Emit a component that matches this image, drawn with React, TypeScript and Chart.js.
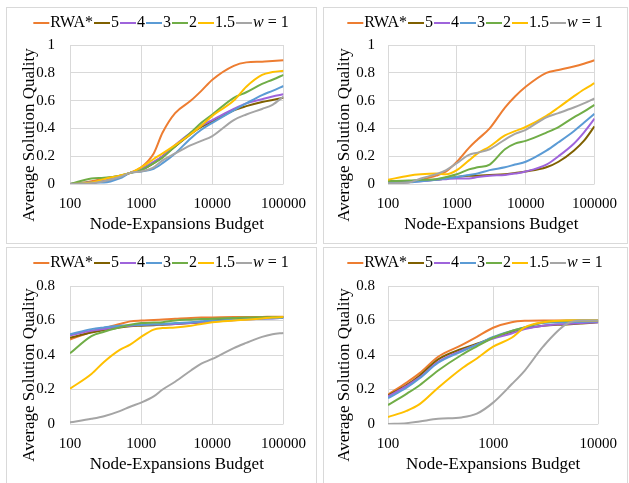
import React, { useEffect, useRef } from "react";
import { Chart, registerables } from "chart.js";

Chart.register(...registerables);

const seriesLabels = ["RWA*", "5", "4", "3", "2", "1.5", "w = 1"];
const seriesColors = ["#ED7D31", "#7F6000", "#9E64DB", "#5B9BD5", "#70AD47", "#FFC000", "#A5A5A5"];

const budgetsWide = [100, 200, 300, 500, 700, 1000, 1500, 2000, 3000, 5000, 7000, 10000, 20000, 30000, 50000, 70000, 100000];
const budgetsNarrow = [100, 150, 200, 300, 500, 700, 1000, 1500, 2000, 3000, 5000, 7000, 10000];
const xTicksWide = [100, 1000, 10000, 100000];
const xTicksNarrow = [100, 1000, 10000];

// Panel 1 (top-left)
const p1Rwa = [0, 0.02, 0.04, 0.06, 0.08, 0.12, 0.22, 0.37, 0.51, 0.6, 0.67, 0.75, 0.85, 0.875, 0.88, 0.885, 0.89];
const p1W5 = [0, 0.01, 0.02, 0.05, 0.08, 0.1, 0.15, 0.2, 0.27, 0.36, 0.41, 0.45, 0.53, 0.56, 0.59, 0.605, 0.62];
const p1W4 = [0, 0.01, 0.02, 0.05, 0.08, 0.11, 0.16, 0.2, 0.28, 0.37, 0.42, 0.46, 0.54, 0.58, 0.61, 0.63, 0.645];
const p1W3 = [0, 0.01, 0.01, 0.04, 0.08, 0.09, 0.11, 0.15, 0.22, 0.33, 0.39, 0.44, 0.53, 0.58, 0.64, 0.67, 0.705];
const p1W2 = [0, 0.04, 0.045, 0.06, 0.08, 0.1, 0.15, 0.19, 0.27, 0.37, 0.44, 0.5, 0.62, 0.66, 0.72, 0.75, 0.785];
const p1W15 = [0, 0.01, 0.035, 0.06, 0.08, 0.12, 0.18, 0.22, 0.28, 0.36, 0.42, 0.49, 0.6, 0.7, 0.785, 0.805, 0.815];
const p1W1 = [0, 0.005, 0.02, 0.05, 0.08, 0.09, 0.12, 0.17, 0.22, 0.28, 0.31, 0.345, 0.46, 0.5, 0.54, 0.57, 0.63];

// Panel 2 (top-right)
const p2Rwa = [0.01, 0.012, 0.03, 0.06, 0.09, 0.16, 0.26, 0.32, 0.4, 0.55, 0.63, 0.7, 0.8, 0.82, 0.845, 0.865, 0.89];
const p2W5 = [0.02, 0.02, 0.025, 0.03, 0.04, 0.05, 0.06, 0.06, 0.065, 0.07, 0.08, 0.09, 0.12, 0.16, 0.24, 0.31, 0.415];
const p2W4 = [0.01, 0.015, 0.02, 0.03, 0.035, 0.04, 0.04, 0.05, 0.06, 0.065, 0.075, 0.09, 0.14, 0.2, 0.29, 0.37, 0.47];
const p2W3 = [0.01, 0.012, 0.02, 0.03, 0.04, 0.05, 0.065, 0.075, 0.1, 0.12, 0.14, 0.16, 0.24, 0.3, 0.38, 0.44, 0.505];
const p2W2 = [0.02, 0.025, 0.03, 0.035, 0.05, 0.07, 0.105, 0.12, 0.14, 0.25, 0.29, 0.31, 0.37, 0.41, 0.48, 0.52, 0.57];
const p2W15 = [0.03, 0.06, 0.07, 0.075, 0.07, 0.1, 0.17, 0.22, 0.27, 0.35, 0.38, 0.41, 0.49, 0.55, 0.63, 0.68, 0.725];
const p2W1 = [0.005, 0.01, 0.04, 0.07, 0.1, 0.15, 0.21, 0.225, 0.25, 0.32, 0.36, 0.39, 0.48, 0.51, 0.55, 0.58, 0.615];

// Panel 3 (bottom-left)
const p3Rwa = [0.49, 0.535, 0.555, 0.58, 0.595, 0.6, 0.603, 0.606, 0.61, 0.615, 0.617, 0.618, 0.62, 0.621, 0.621, 0.622, 0.622];
const p3W5 = [0.5, 0.53, 0.545, 0.56, 0.567, 0.57, 0.573, 0.576, 0.58, 0.585, 0.59, 0.6, 0.608, 0.612, 0.615, 0.618, 0.62];
const p3W4 = [0.515, 0.54, 0.55, 0.565, 0.57, 0.575, 0.577, 0.578, 0.58, 0.585, 0.59, 0.595, 0.602, 0.606, 0.61, 0.612, 0.615];
const p3W3 = [0.52, 0.55, 0.56, 0.57, 0.573, 0.575, 0.578, 0.58, 0.585, 0.59, 0.595, 0.6, 0.605, 0.608, 0.611, 0.613, 0.615];
const p3W2 = [0.41, 0.51, 0.535, 0.56, 0.575, 0.585, 0.588, 0.59, 0.6, 0.605, 0.608, 0.61, 0.614, 0.617, 0.619, 0.62, 0.62];
const p3W15 = [0.205, 0.29, 0.36, 0.43, 0.46, 0.505, 0.547, 0.556, 0.56, 0.57, 0.58, 0.59, 0.6, 0.605, 0.612, 0.617, 0.62];
const p3W1 = [0.01, 0.03, 0.045, 0.075, 0.1, 0.124, 0.16, 0.2, 0.245, 0.31, 0.35, 0.377, 0.44, 0.47, 0.505, 0.52, 0.528];

// Panel 4 (bottom-right)
const p4Rwa = [0.17, 0.24, 0.295, 0.39, 0.457, 0.505, 0.558, 0.59, 0.598, 0.6, 0.6, 0.6, 0.6];
const p4W5 = [0.165, 0.225, 0.28, 0.375, 0.435, 0.465, 0.5, 0.535, 0.555, 0.57, 0.577, 0.583, 0.59];
const p4W4 = [0.16, 0.22, 0.27, 0.36, 0.425, 0.46, 0.495, 0.525, 0.55, 0.57, 0.58, 0.585, 0.59];
const p4W3 = [0.15, 0.21, 0.265, 0.355, 0.42, 0.46, 0.505, 0.54, 0.56, 0.585, 0.59, 0.593, 0.595];
const p4W2 = [0.11, 0.175, 0.225, 0.31, 0.4, 0.45, 0.5, 0.54, 0.56, 0.59, 0.598, 0.6, 0.6];
const p4W15 = [0.04, 0.076, 0.115, 0.21, 0.32, 0.38, 0.448, 0.5, 0.56, 0.59, 0.6, 0.6, 0.6];
const p4W1 = [0, 0.005, 0.015, 0.03, 0.038, 0.06, 0.124, 0.23, 0.31, 0.45, 0.58, 0.6, 0.6];

const FONT = '"Liberation Serif", "Times New Roman", serif';
const TEXT = "#000000";
const GRID = "#D9D9D9";

const lineLegend = {
  id: "lineLegend",
  afterDraw(chart: any, _args: any, opts: any) {
    const ctx = chart.ctx;
    const size = opts.size || 15;
    const font = `${size}px ${FONT}`;
    const italic = `italic ${size}px ${FONT}`;
    const seg = opts.seg || 16;
    const gap = opts.gap || 1;
    ctx.save();
    ctx.font = font;
    const items = chart.data.datasets.map((ds: any) => {
      const label: string = ds.label;
      let w: number;
      if (label.startsWith("w ")) {
        ctx.font = italic;
        const a = ctx.measureText("w").width;
        ctx.font = font;
        w = a + ctx.measureText(label.slice(1)).width;
      } else {
        w = ctx.measureText(label).width;
      }
      return { label, w, color: ds.borderColor };
    });
    const total = items.reduce((s: number, it: any) => s + seg + gap + it.w + gap, 0);
    let x = (chart.width - total) / 2;
    const y = opts.y;
    ctx.textBaseline = "middle";
    ctx.textAlign = "left";
    for (const it of items) {
      ctx.strokeStyle = it.color;
      ctx.lineWidth = 2;
      ctx.beginPath();
      ctx.moveTo(x, y);
      ctx.lineTo(x + seg, y);
      ctx.stroke();
      x += seg + gap;
      ctx.fillStyle = TEXT;
      if (it.label.startsWith("w ")) {
        ctx.font = italic;
        ctx.fillText("w", x, y);
        const a = ctx.measureText("w").width;
        ctx.font = font;
        ctx.fillText(it.label.slice(1), x + a, y);
      } else {
        ctx.font = font;
        ctx.fillText(it.label, x, y);
      }
      x += it.w + gap;
    }
    ctx.restore();
  },
};

const yTitle = {
  id: "yTitle",
  afterDraw(chart: any, _args: any, opts: any) {
    const ctx = chart.ctx;
    ctx.save();
    ctx.translate(opts.x, opts.y);
    ctx.rotate(-Math.PI / 2);
    ctx.font = `${opts.size}px ${FONT}`;
    ctx.fillStyle = TEXT;
    ctx.textAlign = "center";
    ctx.textBaseline = "middle";
    ctx.fillText(opts.text, 0, 0);
    ctx.restore();
  },
};

type PanelProps = {
  left: number;
  top: number;
  width: number;
  height: number;
  xs: number[];
  series: number[][];
  xTicks: number[];
  yMax: number;
  yAxisWidth: number;
  rightPad: number;
  topPad: number;
  tickPad: number;
  titleX: number;
};

function Panel(p: PanelProps) {
  const ref = useRef<HTMLCanvasElement>(null);
  useEffect(() => {
    const chart = new Chart(ref.current as HTMLCanvasElement, {
      type: "line",
      data: {
        datasets: p.series.map((ys, i) => ({
          label: seriesLabels[i],
          data: p.xs.map((x, j) => ({ x, y: ys[j] })),
          borderColor: seriesColors[i],
          backgroundColor: seriesColors[i],
          borderWidth: 2,
          pointRadius: 0,
          cubicInterpolationMode: "monotone",
          order: seriesLabels.length - i,
        })),
      },
      options: {
        responsive: false,
        animation: false,
        layout: { padding: { top: p.topPad, right: p.rightPad, left: 0, bottom: 0 } },
        plugins: {
          legend: { display: false },
          tooltip: { enabled: false },
          lineLegend: { y: 16, size: 16, seg: 16, gap: 1 },
          yTitle: { x: p.titleX, y: 128, size: 17, text: "Average Solution Quality" },
        } as any,
        scales: {
          x: {
            type: "logarithmic",
            min: p.xTicks[0],
            max: p.xTicks[p.xTicks.length - 1],
            afterBuildTicks: (s: any) => {
              s.ticks = p.xTicks.map((v) => ({ value: v }));
            },
            afterFit: (s: any) => {
              s.height = 60;
            },
            ticks: {
              callback: (v: any) => String(v),
              font: { family: FONT, size: 15 },
              color: TEXT,
              padding: 11,
              autoSkip: false,
              maxRotation: 0,
            },
            grid: { color: GRID, lineWidth: 1, drawTicks: false },
            border: { display: false },
            title: {
              display: true,
              text: "Node-Expansions Budget",
              font: { family: FONT, size: 17 },
              color: TEXT,
              padding: { top: 0, bottom: 9 },
            },
          } as any,
          y: {
            min: 0,
            max: p.yMax,
            afterFit: (s: any) => {
              s.width = p.yAxisWidth;
            },
            ticks: {
              stepSize: 0.2,
              callback: (v: any) => String(Math.round(Number(v) * 10) / 10),
              font: { family: FONT, size: 15 },
              color: TEXT,
              padding: p.tickPad,
            },
            grid: { color: GRID, lineWidth: 1, drawTicks: false },
            border: { display: false },
          },
        },
      },
      plugins: [lineLegend, yTitle],
    } as any);
    return () => chart.destroy();
  }, []);
  return (
    <>
      <canvas
        ref={ref}
        width={p.width}
        height={p.height}
        style={{ position: "absolute", left: p.left, top: p.top, width: p.width, height: p.height }}
      />
      <div
        style={{
          position: "absolute",
          left: p.left,
          top: p.top,
          width: p.width,
          height: p.height,
          border: `1px solid ${GRID}`,
          boxSizing: "border-box",
          pointerEvents: "none",
        }}
      />
    </>
  );
}

export default function App() {
  return (
    <div
      style={{
        position: "fixed",
        left: 0,
        top: 0,
        width: 629,
        height: 483,
        background: "#ffffff",
        overflow: "hidden",
      }}
    >
      <Panel
        left={6} top={7} width={311} height={237}
        xs={budgetsWide}
        series={[p1Rwa, p1W5, p1W4, p1W3, p1W2, p1W15, p1W1]}
        xTicks={xTicksWide} yMax={1}
        yAxisWidth={64} rightPad={32} topPad={38} tickPad={15} titleX={24}
      />
      <Panel
        left={323} top={7} width={305} height={237}
        xs={budgetsWide}
        series={[p2Rwa, p2W5, p2W4, p2W3, p2W2, p2W15, p2W1]}
        xTicks={xTicksWide} yMax={1}
        yAxisWidth={65} rightPad={25} topPad={38} tickPad={13} titleX={22}
      />
      <Panel
        left={6} top={247} width={311} height={237}
        xs={budgetsWide}
        series={[p3Rwa, p3W5, p3W4, p3W3, p3W2, p3W15, p3W1]}
        xTicks={xTicksWide} yMax={0.8}
        yAxisWidth={64} rightPad={32} topPad={39} tickPad={15} titleX={24}
      />
      <Panel
        left={323} top={247} width={305} height={237}
        xs={budgetsNarrow}
        series={[p4Rwa, p4W5, p4W4, p4W3, p4W2, p4W15, p4W1]}
        xTicks={xTicksNarrow} yMax={0.8}
        yAxisWidth={65} rightPad={21} topPad={39} tickPad={13} titleX={22}
      />
    </div>
  );
}
